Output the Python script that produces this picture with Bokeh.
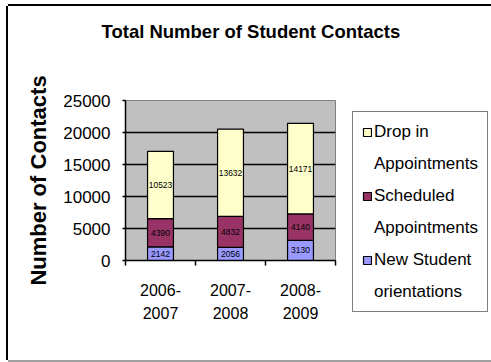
from bokeh.plotting import figure
from bokeh.models import (Range1d, FixedTicker, LabelSet, ColumnDataSource, Title,
                          Legend, LegendItem)
from bokeh.core.properties import value
from bokeh.embed import file_html
from bokeh.resources import INLINE

categories = ["2006-2007", "2007-2008", "2008-2009"]
new_student = [2142, 2056, 3130]
scheduled = [4390, 4832, 4140]
drop_in = [10523, 13632, 14171]
series_names = ["New Student\norientations", "Scheduled\nAppointments", "Drop in\nAppointments"]
series_colors = ["#9999FF", "#993366", "#FFFFCC"]
y_ticks = [0, 5000, 10000, 15000, 20000, 25000]

FONT = "Liberation Sans"
W, H = 483, 354
L, T, FW, FH = 117, 94, 210, 160

xs = [i + 0.5 for i in range(len(categories))]

p = figure(frame_width=FW, frame_height=FH, output_backend="svg", toolbar_location=None,
           title=None, x_range=Range1d(0, len(categories)), y_range=Range1d(0, 25000),
           min_border_left=L, min_border_top=T,
           min_border_right=W - L - FW, min_border_bottom=H - T - FH)
p.styles = {"margin-left": "8px", "margin-top": "6px",
            "box-shadow": "-2px 0 0 0 #000000, 0 -2px 0 0 #000000, 0 2px 0 0 #a0a0a0"}
p.background_fill_color = "#C0C0C0"
p.border_fill_color = "white"
p.outline_line_color = "#808080"

src = ColumnDataSource(dict(x=xs, new=new_student, sched=scheduled, drop=drop_in))
rs = p.vbar_stack(["new", "sched", "drop"], x="x", width=0.37, source=src,
                  color=series_colors, line_color="black", line_width=1.2)

# segment value labels
lx, ly, lt = [], [], []
for i in range(len(categories)):
    base = 0
    for v in (new_student[i], scheduled[i], drop_in[i]):
        lx.append(xs[i]); ly.append(base + v / 2); lt.append(str(v))
        base += v
lsrc = ColumnDataSource(dict(x=lx, y=ly, t=lt))
p.add_layout(LabelSet(x="x", y="y", text="t", source=lsrc, text_align="center",
                      text_baseline="middle", text_font_size=value("8.5px"),
                      text_font=value(FONT), text_color="black"))

# grid
p.xgrid.grid_line_color = None
p.ygrid.ticker = FixedTicker(ticks=y_ticks)
p.ygrid.grid_line_color = "black"
p.ygrid.grid_line_width = 1.5

# y axis
p.yaxis.ticker = FixedTicker(ticks=y_ticks)
p.yaxis.major_tick_out = 3
p.yaxis.major_tick_in = 0
p.yaxis.major_tick_line_width = 1.5
p.yaxis.minor_tick_line_color = None
p.yaxis.axis_line_color = "black"
p.yaxis.axis_line_width = 1.5
p.yaxis.major_label_text_font = FONT
p.yaxis.major_label_text_font_size = "17px"
p.yaxis.major_label_text_color = "black"
p.yaxis.major_label_standoff = 12
p.yaxis.axis_label = "Number of Contacts"
p.yaxis.axis_label_text_font = FONT
p.yaxis.axis_label_text_font_style = "bold"
p.yaxis.axis_label_text_font_size = "22px"
p.yaxis.axis_label_text_color = "black"
p.yaxis.axis_label_standoff = 9

# x axis
p.xaxis.ticker = FixedTicker(ticks=xs, minor_ticks=list(range(len(categories) + 1)))
p.xaxis.major_label_overrides = {x: c.replace("-", "-\n") for x, c in zip(xs, categories)}
p.xaxis.major_tick_line_color = None
p.xaxis.minor_tick_out = 5
p.xaxis.minor_tick_in = 0
p.xaxis.minor_tick_line_color = "black"
p.xaxis.minor_tick_line_width = 1.5
p.xaxis.axis_line_color = "black"
p.xaxis.axis_line_width = 1.5
p.xaxis.major_label_text_font = FONT
p.xaxis.major_label_text_font_size = "16px"
p.xaxis.major_label_text_color = "black"
p.xaxis.major_label_text_line_height = 1.4
p.xaxis.major_label_standoff = 15

# title: spacer nearest the frame, then the real title above it
p.add_layout(Title(text=" ", text_font_size="10px", standoff=29), "above")
p.add_layout(Title(text="Total Number of Student Contacts", align="left", offset=-24,
                   vertical_align="top", standoff=29, text_font=FONT,
                   text_font_style="bold", text_font_size="18.5px", text_color="black"),
             "above")

# legend: one entry per printed line; continuation lines carry an invisible glyph
blank = p.vbar(x=[], top=[], width=0.1, fill_alpha=0, line_alpha=0)
items = []
for name, r in list(zip(series_names, rs))[::-1]:
    first, second = name.split("\n")
    items.append(LegendItem(label=first, renderers=[r]))
    items.append(LegendItem(label=second, renderers=[blank]))
legend = Legend(items=items, location=(17, -52), margin=0, padding=9, spacing=11,
                glyph_width=10, glyph_height=10, label_height=21, label_standoff=2,
                label_text_font=FONT, label_text_font_size="17px",
                label_text_color="black", label_text_baseline="middle",
                border_line_color="black", border_line_width=1.5,
                background_fill_color="white", background_fill_alpha=1)
p.add_layout(legend, "right")

open("out.html", "w").write(file_html(p, INLINE))
